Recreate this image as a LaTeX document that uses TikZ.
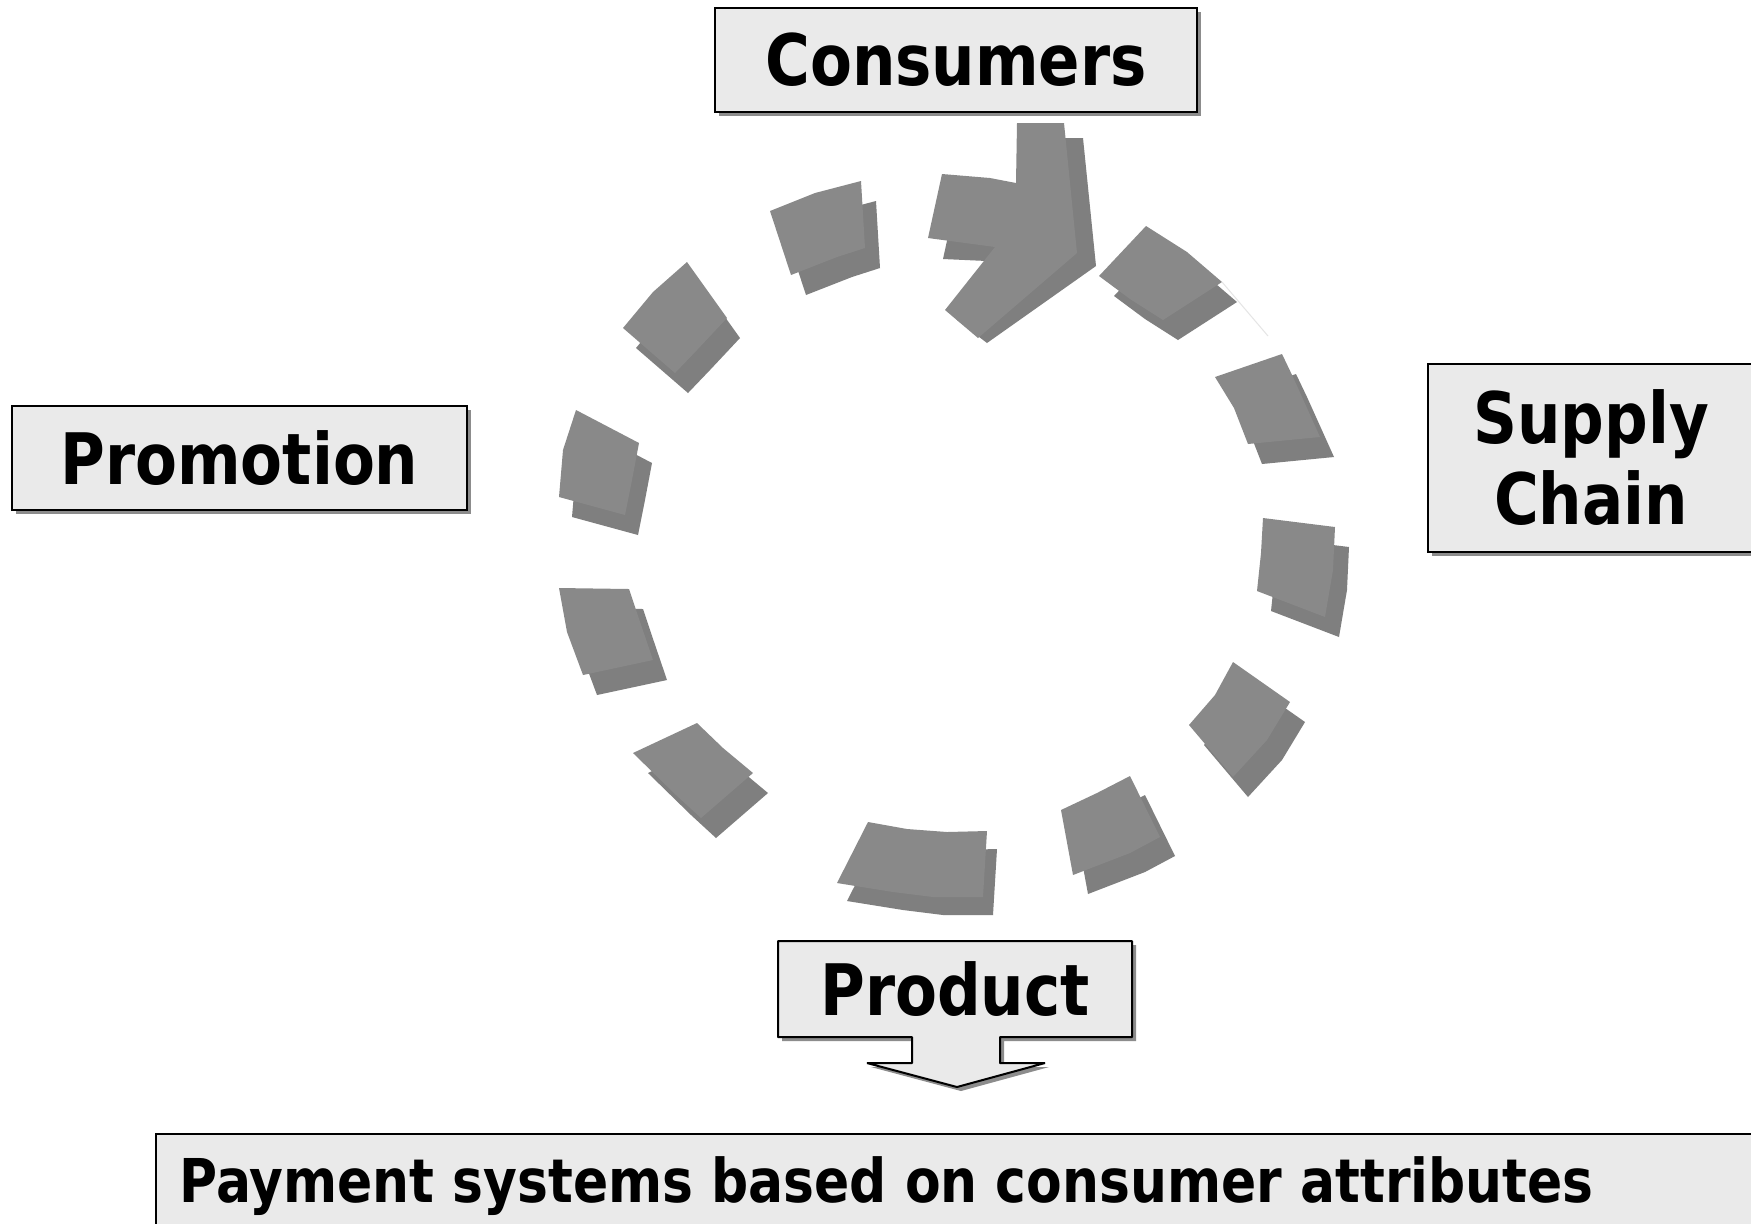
\documentclass[tikz,border=0pt]{standalone}
\usepackage{fontspec}
\newfontfamily\labelfont{DejaVu Sans}[FakeStretch=0.86]
\usetikzlibrary{shadows}

\definecolor{boxfill}{HTML}{EAEAEA}
\definecolor{boxshade}{HTML}{8C8C8C}
\definecolor{ringfront}{HTML}{898989}
\definecolor{ringback}{HTML}{7F7F7F}

% one dash of the extruded ring: back face shifted by (#1,#2), front face #3
\newcommand\ringpiece[3]{%
  \fill[ringback,shift={(#1,#2)}] #3;
  \fill[ringfront] #3;}

\tikzset{
  boxshadow/.style={drop shadow={shadow xshift=2pt, shadow yshift=-2pt,
      fill=boxshade, opacity=1}},
  labelbox/.style={draw=black, line width=1pt, fill=boxfill, boxshadow,
      inner sep=0pt, font=\labelfont\bfseries\fontsize{35.5pt}{40.5pt}\selectfont},
  labeltext/.style={inner sep=0pt,
      font=\labelfont\bfseries\fontsize{35.5pt}{40.5pt}\selectfont},
}

\begin{document}
\begin{tikzpicture}[x=0.5pt,y=-0.5pt]
\clip (0,0) rectangle (1751,1223);
\fill[white] (0,0) rectangle (1751,1223);

% labels round the cycle
\node[labelbox, minimum width=241pt, minimum height=52pt] (consumers) at (956,60) {Consumers};
\node[labelbox, minimum width=227.5pt, minimum height=52pt] (promotion) at (239.5,458) {Promotion};
\node[labelbox, minimum width=163pt, minimum height=94pt, align=center] (supply) at (1591,458) {Supply\\Chain};

% product box with its down-pointing callout
\draw[draw=black, line width=1pt, line join=bevel, fill=boxfill, boxshadow]
  (778,941) -- (1132,941) -- (1132,1037) -- (1000,1037) -- (1000,1063)
  -- (1045,1063) -- (957,1087) -- (867,1063) -- (912,1063) -- (912,1037)
  -- (778,1037) -- cycle;
\node[labeltext, minimum width=177pt, minimum height=48pt] (product) at (955,989) {Product};

% result box
\node[labelbox, anchor=north west, minimum width=840pt, minimum height=60pt] (payframe) at (155,1133) {};
\node[inner sep=0pt, anchor=base west,
      font=\labelfont\bfseries\fontsize{30.2pt}{36pt}\selectfont] (payment) at (179,1202)
  {Payment systems based on consumer attributes};

% dashed 3-D ring, clockwise from eleven o'clock
\ringpiece{15}{20}{(770,211) -- (815,193) -- (861,181) -- (865,248) -- (837,257) -- (791,275) -- cycle}
\ringpiece{13}{20}{(623,328) -- (653,292) -- (687,262) -- (727,318) -- (697,350) -- (675,373) -- cycle}
\ringpiece{13}{20}{(576,410) -- (639,443) -- (632,480) -- (625,515) -- (559,497) -- (563,450) -- cycle}
\ringpiece{14}{20}{(559,588) -- (629,589) -- (636,610) -- (653,660) -- (583,675) -- (567,632) -- cycle}
\ringpiece{15}{20}{(633,753) -- (697,723) -- (723,748) -- (753,773) -- (701,818) -- (676,795) -- cycle}
\ringpiece{10}{18}{(868,822) -- (907,829) -- (947,832) -- (987,831) -- (983,897) -- (933,897) -- (893,892) -- (837,883) -- cycle}
\ringpiece{15}{19}{(1061,810) -- (1097,793) -- (1130,776) -- (1160,837) -- (1130,853) -- (1073,875) -- cycle}
\ringpiece{15}{20}{(1189,725) -- (1215,695) -- (1233,662) -- (1290,702) -- (1267,740) -- (1233,777) -- cycle}
\ringpiece{14}{20}{(1263,518) -- (1335,527) -- (1333,570) -- (1325,617) -- (1257,591) -- (1261,553) -- cycle}
\ringpiece{14}{20}{(1215,377) -- (1282,354) -- (1293,377) -- (1320,437) -- (1248,444) -- (1234,408) -- cycle}
\ringpiece{15}{20}{(1099,276) -- (1146,226) -- (1187,252) -- (1222,282) -- (1163,320) -- (1130,299) -- cycle}

% arrowhead closing the ring at the top (its back face is foreshortened)
\fill[ringback] (943,259) -- (957,195) -- (1005,198) -- (1033,200) -- (1036,138)
  -- (1083,138) -- (1096,266) -- (987,343) -- (957,320) -- (1009,262) -- cycle;
\fill[ringfront] (928,238) -- (942,174) -- (990,178) -- (1016,183) -- (1017,123)
  -- (1064,123) -- (1077,253) -- (978,338) -- (945,310) -- (995,247) -- cycle;

% faint edge line beside the one o'clock dash
\draw[gray!20, line width=0.5pt] (1222,282) -- (1268,336);
\end{tikzpicture}
\end{document}
